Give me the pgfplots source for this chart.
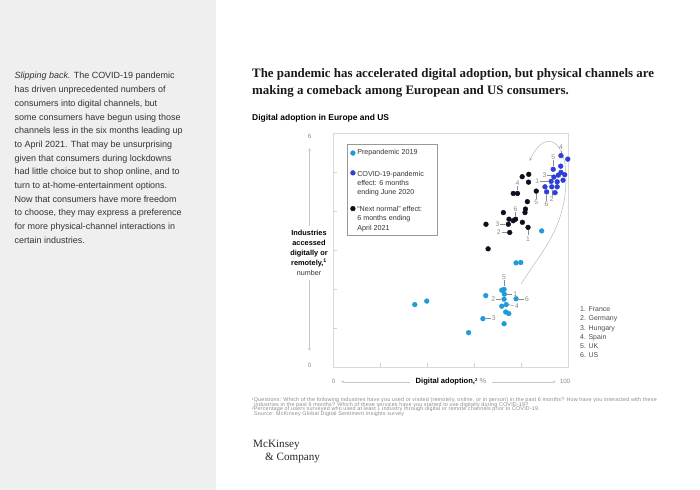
\documentclass[border=0pt]{standalone}
\usepackage{pgfplots}
\pgfplotsset{compat=1.18}
\usepackage{pgfplotstable}
\usetikzlibrary{arrows.meta}
\usepackage{fontspec}
\setmainfont{Liberation Sans}
\newfontfamily\serif{Liberation Serif}
\newfontfamily\fnfont[LetterSpace=3.5]{Liberation Sans}
\definecolor{prec}{HTML}{1F9BD7}
\definecolor{covc}{HTML}{2E3FD6}
\definecolor{nnc}{HTML}{0D0F20}
\definecolor{txtc}{HTML}{333333}
\definecolor{lblc}{HTML}{8A8A8A}
\definecolor{panel}{HTML}{EFEFEF}
\definecolor{axc}{HTML}{C8C8C8}

\pgfplotstableread{
x y
88.8 3.49
77.9 2.67
79.9 2.68
72.8 1.99
71.8 1.97
72.9 1.87
65.0 1.83
34.8 1.60
39.9 1.69
72.8 1.74
77.9 1.75
71.8 1.56
73.7 1.60
73.5 1.41
74.8 1.37
63.8 1.24
72.8 1.11
57.7 0.88
}\pre

\pgfplotstableread{
x y
97.0 5.42
99.9 5.33
96.9 5.15
93.7 5.07
97.0 4.99
98.6 4.93
95.9 4.92
94.0 4.87
92.8 4.76
95.4 4.75
97.9 4.79
90.2 4.62
93.1 4.62
95.4 4.62
90.9 4.49
94.5 4.47
}\cov

\pgfplotstableread{
x y
80.5 4.88
83.3 4.94
83.2 4.74
76.7 4.45
78.5 4.45
86.5 4.51
82.7 4.24
81.9 4.05
81.7 3.96
72.5 3.96
74.9 3.79
77.7 3.79
76.7 3.75
80.6 3.71
65.1 3.66
74.6 3.66
83.0 3.58
75.2 3.45
66.0 3.03
}\nnorm

\newcommand\ltxt[2]{\node[anchor=base west, inner sep=0, text=txtc, font=\fontsize{9.0}{10}\selectfont] at (14.5,#1) {#2};}

\begin{document}
\begin{tikzpicture}
\path[use as bounding box] (0,0) rectangle (700bp,490bp);
\fill[panel] (0,0) rectangle (216bp,490bp);
\begin{scope}[x=1bp,y=1bp]
% left text
\ltxt{411}{\textit{Slipping back.} The COVID-19 pandemic}
\ltxt{397.3}{has driven unprecedented numbers of}
\ltxt{383.7}{consumers into digital channels, but}
\ltxt{370}{some consumers have begun using those}
\ltxt{356.3}{channels less in the six months leading up}
\ltxt{342.7}{to April 2021. That may be unsurprising}
\ltxt{329}{given that consumers during lockdowns}
\ltxt{315.3}{had little choice but to shop online, and to}
\ltxt{301.7}{turn to at-home-entertainment options.}
\ltxt{288}{Now that consumers have more freedom}
\ltxt{274.3}{to choose, they may express a preference}
\ltxt{260.7}{for more physical-channel interactions in}
\ltxt{247}{certain industries.}
% title
\node[anchor=base west, inner sep=0, font=\serif\bfseries\fontsize{12.95}{14}\selectfont, text=black!90] at (252,412) {The pandemic has accelerated digital adoption, but physical channels are};
\node[anchor=base west, inner sep=0, font=\serif\bfseries\fontsize{12.95}{14}\selectfont, text=black!90] at (252,395) {making a comeback among European and US consumers.};
\node[anchor=base west, inner sep=0, font=\bfseries\fontsize{8.5}{9}\selectfont] at (252,370) {Digital adoption in Europe and US};
% y axis annotation
\node[font=\fontsize{6.3}{7}\selectfont, text=lblc] at (309.5,354) {6};
\node[font=\fontsize{6.3}{7}\selectfont, text=lblc] at (309.5,125) {0};
\draw[axc, line width=0.4pt, -{Stealth[length=3bp,width=2.5bp]}] (309.5,264) -- (309.5,342);
\draw[axc, line width=0.4pt, -{Stealth[length=3bp,width=2.5bp]}] (309.5,210) -- (309.5,139);
\foreach \yy/\lab in {255/Industries,244.5/accessed,234.5/digitally or,224.5/{remotely,\textsuperscript{1}}}{
  \node[anchor=base, inner sep=0, font=\bfseries\fontsize{7.4}{8}\selectfont] at (309,\yy) {\lab};
}
\node[anchor=base, inner sep=0, font=\fontsize{7.2}{8}\selectfont, text=txtc] at (309,214.5) {number};
% x axis annotation
\node[font=\fontsize{6.3}{7}\selectfont, text=lblc] at (333.5,108.3) {0};
\node[font=\fontsize{6.3}{7}\selectfont, text=lblc] at (565,108.3) {100};
\draw[axc, line width=0.4pt, -{Stealth[length=3bp,width=2.5bp]}] (410,108.3) -- (341,108.3);
\draw[axc, line width=0.4pt, -{Stealth[length=3bp,width=2.5bp]}] (492,108.3) -- (556,108.3);
\node[font=\fontsize{7.6}{8}\selectfont] at (451,108.3) {\textbf{Digital adoption,}\raisebox{2.4bp}{\fontsize{4.3}{4}\selectfont\textbf{2}} \textcolor{lblc}{\%}};
% country list
\foreach \yy/\lab in {178.5/1. France,169.3/2. Germany,160/3. Hungary,150.8/4. Spain,141.6/5. UK,132.4/6. US}{
  \node[anchor=base west, inner sep=0, font=\fontsize{7}{7}\selectfont, text=black!70] at (580,\yy) {\lab};
}
% footnotes
\begin{scope}[every node/.style={anchor=base west, inner sep=0, font=\fnfont\fontsize{5.4}{5}\selectfont, text=lblc}]
\node at (251.7,88.5) {\raisebox{1.5bp}{\fontsize{3.5}{3}\selectfont 1}Questions: Which of the following industries have you used or visited (remotely, online, or in person) in the past 6 months? How have you interacted with these};
\node at (254,83.9) {industries in the past 6 months? Which of these services have you started to use digitally during COVID-19?};
\node at (251.7,79.3) {\raisebox{1.5bp}{\fontsize{3.5}{3}\selectfont 2}Percentage of users surveyed who used at least 1 industry through digital or remote channels prior to COVID-19.};
\node at (254,74.7) {Source: McKinsey Global Digital Sentiment Insights survey};
\end{scope}
% logo
\node[anchor=base west, inner sep=0, font=\serif\fontsize{11.2}{12}\selectfont, text=black!85] at (253,43) {McKinsey};
\node[anchor=base west, inner sep=0, font=\serif\fontsize{11.2}{12}\selectfont, text=black!85] at (265,30) {\&~Company};
% legend frame
\draw[black!40, line width=0.45pt, fill=white] (347.3,254.3) rectangle (437.7,346);
% arc
\draw[black!30, line width=0.45pt, -{Stealth[length=3.5bp,width=3bp]}] (521,206) .. controls (541,238) and (566,262) .. (566,312) .. controls (566,350) and (545,362) .. (529.5,329);
\end{scope}

\begin{axis}[
  at={(333bp,123bp)}, anchor=south west, scale only axis,
  width=235bp, height=234bp,
  xmin=0, xmax=100, ymin=0, ymax=6,
  xtick={20,40,60,80}, ytick={1,2,3,4,5},
  xticklabels={}, yticklabels={},
  xtick pos=bottom, ytick pos=left,
  tick align=inside, major tick length=4bp,
  tick style={draw=black!18, line width=0.4pt},
  axis line style={draw=black!15, line width=0.5pt},
  clip=false,
  legend style={at={(rel axis cs:0.0609,0.9594)}, anchor=north west, draw=none, fill=none,
    font=\fontsize{7.2}{9.2}\selectfont, text=txtc,
    row sep=9.5bp, inner xsep=3bp, inner ysep=5bp},
  legend cell align=left,
]
\addplot[only marks, mark=*, mark size=2.4bp, mark options={draw=prec, fill=prec}] table {\pre};
\addlegendentry{Prepandemic 2019}
\addplot[only marks, mark=*, mark size=2.4bp, mark options={draw=covc, fill=covc}, legend image post style={yshift=5.5bp}] table {\cov};
\addlegendentry{\begin{tabular}{@{}l@{}}COVID-19-pandemic\\effect: 6 months\\ending June 2020\end{tabular}}
\addplot[only marks, mark=*, mark size=2.4bp, mark options={draw=nnc, fill=nnc}, legend image post style={yshift=1.5bp}] table {\nnorm};
\addlegendentry{\begin{tabular}{@{}l@{}}\rule{0pt}{11.4bp}“Next normal” effect:\\6 months ending\\April 2021\end{tabular}}

\tikzset{lbl/.style={font=\fontsize{6.8}{7}\selectfont, text=lblc, inner sep=0.8bp}, lead/.style={draw=lblc, line width=0.4pt}}
% prepandemic labels
\draw[lead] (axis cs:72.8,1.99) ++(0,3bp) -- ++(0,6bp) node[lbl,anchor=south]{5};
\draw[lead] (axis cs:72.9,1.87) ++(3bp,0) -- ++(5bp,0) node[lbl,anchor=west]{1};
\draw[lead] (axis cs:72.8,1.74) ++(-3bp,0) -- ++(-5bp,0) node[lbl,anchor=east]{2};
\draw[lead] (axis cs:77.9,1.75) ++(3bp,0) -- ++(5bp,0) node[lbl,anchor=west]{6};
\draw[lead] (axis cs:73.7,1.60) ++(3bp,0) -- ++(5bp,-1.5bp) node[lbl,anchor=west]{4};
\draw[lead] (axis cs:63.8,1.24) ++(3bp,0) -- ++(5bp,0) node[lbl,anchor=west]{3};
% covid labels
\draw[lead] (axis cs:97.0,5.42) ++(0,3bp) -- ++(0,2bp) node[lbl,anchor=south]{4};
\draw[lead] (axis cs:93.7,5.07) ++(0,3bp) -- ++(0,6bp) node[lbl,anchor=south]{5};
\draw[lead] (axis cs:95.9,4.92) ++(-3bp,0) -- ++(-8bp,0) node[lbl,anchor=east]{3};
\draw[lead] (axis cs:92.8,4.76) ++(-3bp,0) -- ++(-8bp,0) node[lbl,anchor=east]{1};
\draw[lead] (axis cs:90.9,4.49) ++(0,-3bp) -- ++(0,-6bp) node[lbl,anchor=north]{6};
\draw[lead] (axis cs:93.1,4.62) ++(0,-3bp) -- ++(0,-6bp) node[lbl,anchor=north]{2};
% next normal labels
\draw[lead] (axis cs:78.5,4.45) ++(0,3bp) -- ++(0,4bp) node[lbl,anchor=south]{4};
\draw[lead] (axis cs:86.5,4.51) ++(0,-3bp) -- ++(0,-5bp) node[lbl,anchor=north]{5};
\draw[lead] (axis cs:77.7,3.79) ++(0,3bp) -- ++(0,4bp) node[lbl,anchor=south]{6};
\draw[lead] (axis cs:74.6,3.66) ++(-3bp,0) -- ++(-5bp,0) node[lbl,anchor=east]{3};
\draw[lead] (axis cs:83.0,3.58) ++(0,-3bp) -- ++(0,-5bp) node[lbl,anchor=north]{1};
\draw[lead] (axis cs:75.2,3.45) ++(-3bp,0) -- ++(-5bp,0) node[lbl,anchor=east]{2};
\end{axis}
\end{tikzpicture}
\end{document}
